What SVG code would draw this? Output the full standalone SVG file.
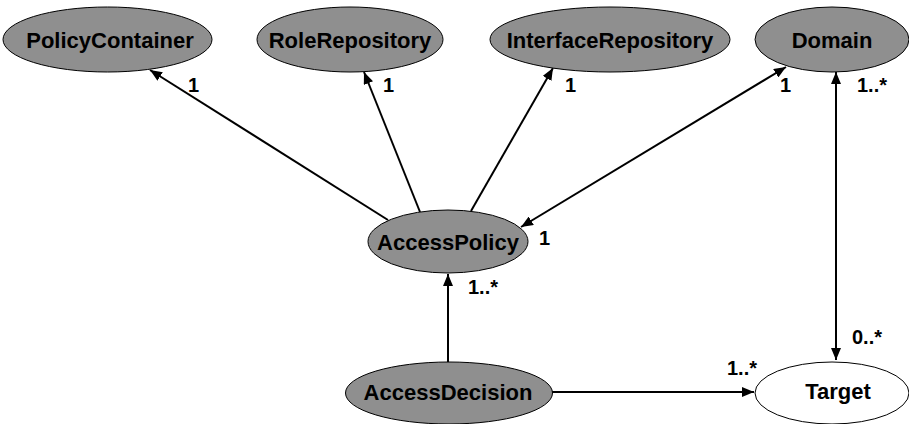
<svg xmlns="http://www.w3.org/2000/svg" width="909" height="424" viewBox="0 0 909 424">
  <style>
    .node ellipse { fill: #8f8f8f; stroke: #000; stroke-width: 1; }
    .node.plain ellipse { fill: #fff; }
    .node text { font-family: "Liberation Sans", Arial, Helvetica, sans-serif; font-weight: bold; font-size: 22px; text-anchor: middle; fill: #000; }
    .edges line { stroke: #000; stroke-width: 2; fill: none; }
    .mult { font-family: "Liberation Sans", Arial, Helvetica, sans-serif; font-weight: bold; font-size: 20px; fill: #000; }
  </style>
  <defs>
    <marker id="arrow" viewBox="0 0 12 10" refX="12" refY="5" markerWidth="12" markerHeight="10" markerUnits="userSpaceOnUse" orient="auto-start-reverse">
      <path d="M0,0 L12,5 L0,10 Z" fill="#000"/>
    </marker>
  </defs>

  <g class="edges">
    <line x1="388" y1="220" x2="150" y2="70" marker-end="url(#arrow)"/>
    <line x1="420" y1="212" x2="364" y2="72" marker-end="url(#arrow)"/>
    <line x1="471" y1="211" x2="553" y2="68" marker-end="url(#arrow)"/>
    <line x1="521" y1="227" x2="786" y2="67" marker-start="url(#arrow)" marker-end="url(#arrow)"/>
    <line x1="448" y1="362" x2="448" y2="274" marker-end="url(#arrow)"/>
    <line x1="552" y1="392" x2="754" y2="392" marker-end="url(#arrow)"/>
    <line x1="836" y1="72" x2="836" y2="360" marker-start="url(#arrow)" marker-end="url(#arrow)"/>
  </g>

  <g id="PolicyContainer" class="node">
    <ellipse cx="107.5" cy="39.5" rx="104.5" ry="32.5"/>
    <text x="110" y="47.5">PolicyContainer</text>
  </g>
  <g id="RoleRepository" class="node">
    <ellipse cx="350" cy="39.5" rx="93" ry="32.5"/>
    <text x="350" y="47.5">RoleRepository</text>
  </g>
  <g id="InterfaceRepository" class="node">
    <ellipse cx="610" cy="39.5" rx="120" ry="32.5"/>
    <text x="610" y="47.5">InterfaceRepository</text>
  </g>
  <g id="Domain" class="node">
    <ellipse cx="832" cy="39.5" rx="77" ry="32.5"/>
    <text x="832" y="47.5">Domain</text>
  </g>
  <g id="AccessPolicy" class="node">
    <ellipse cx="448" cy="241.5" rx="80" ry="31.5"/>
    <text x="448" y="249.5">AccessPolicy</text>
  </g>
  <g id="AccessDecision" class="node">
    <ellipse cx="449" cy="393" rx="103.5" ry="31"/>
    <text x="448" y="400">AccessDecision</text>
  </g>
  <g id="Target" class="node plain">
    <ellipse cx="832" cy="393" rx="77" ry="31"/>
    <text x="838" y="399">Target</text>
  </g>

  <g id="multiplicities">
    <text class="mult" x="188" y="92">1</text>
    <text class="mult" x="383" y="92">1</text>
    <text class="mult" x="565" y="92">1</text>
    <text class="mult" x="780" y="92">1</text>
    <text class="mult" x="857" y="92">1..*</text>
    <text class="mult" x="539" y="245">1</text>
    <text class="mult" x="468" y="294">1..*</text>
    <text class="mult" x="727" y="375">1..*</text>
    <text class="mult" x="852" y="344">0..*</text>
  </g>
</svg>
